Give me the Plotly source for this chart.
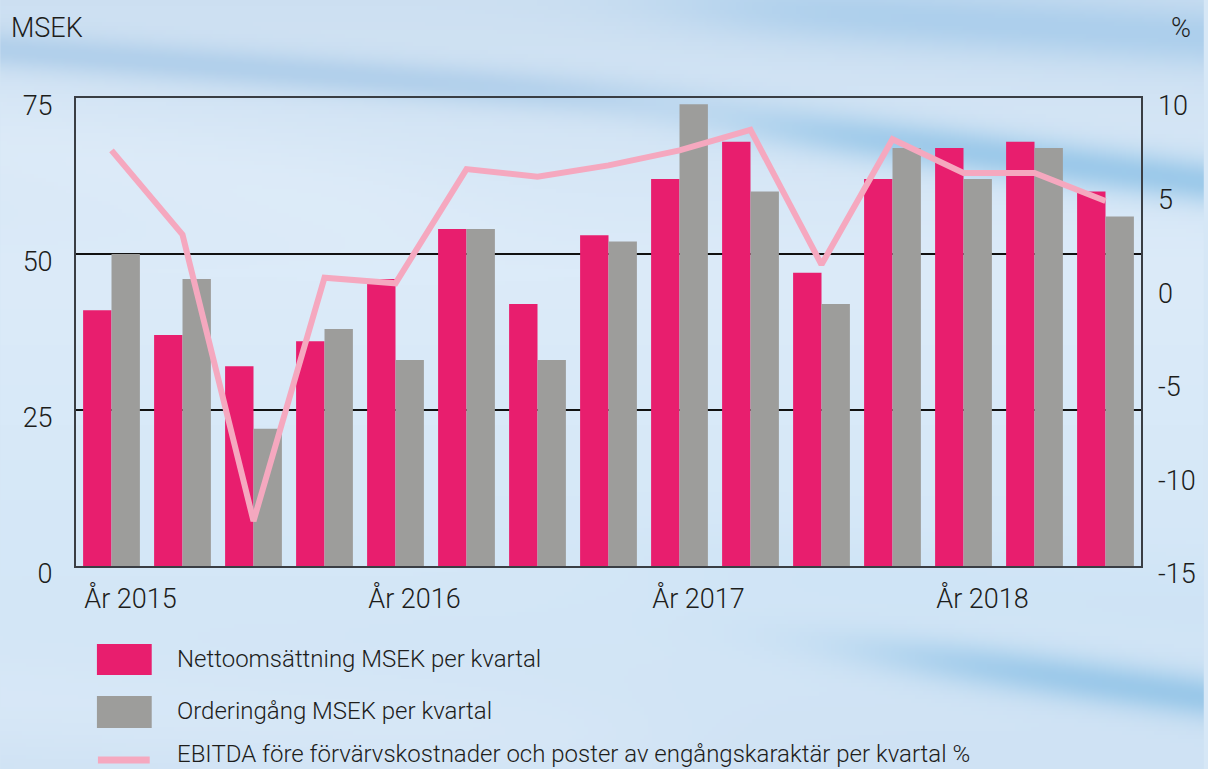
import numpy as np, zlib, struct, base64
import plotly.graph_objects as go

# ---------------- data ----------------
quarters = ["2015Q1", "2015Q2", "2015Q3", "2015Q4",
            "2016Q1", "2016Q2", "2016Q3", "2016Q4",
            "2017Q1", "2017Q2", "2017Q3", "2017Q4",
            "2018Q1", "2018Q2", "2018Q3"]
netto = [41, 37, 32, 36, 46, 54, 42, 53, 62, 68, 47, 62, 67, 68, 60]
order = [50, 46, 22, 38, 33, 54, 33, 52, 74, 60, 42, 67, 62, 67, 56]
ebitda = [7.2, 2.7, -12.6, 0.4, 0.1, 6.2, 5.8, 6.4, 7.2, 8.3, 1.1, 7.8, 6.0, 6.0, 4.5]
year_tick_idx = [0, 4, 8, 12]
year_tick_text = ["År 2015", "År 2016", "År 2017", "År 2018"]
left_ticks = [0, 25, 50, 75]
right_ticks = [-15, -10, -5, 0, 5, 10]
right_tick_text = ["-15", "-10", "-5", "0", "5", "10"]
legend_names = ["Nettoomsättning MSEK per kvartal",
                "Orderingång MSEK per kvartal",
                "EBITDA före förvärvskostnader och poster av engångskaraktär per kvartal %"]

PINK = "#E81E6E"
GRAY = "#9D9D9B"
LINE = "#F5A8BF"
TXT = "#1d1d1b"

W, H = 1208, 769
ML, MR, MT, MB = 76, 63, 98, 203
PW, PH = W - ML - MR, H - MT - MB

# ---------------- background sky image ----------------
gw, gh = 302, 193
ys, xs = np.mgrid[0:gh, 0:gw].astype(float)
xs *= W / gw
ys *= H / gh
top = np.array([205, 224, 242.0])
mid = np.array([220, 235, 249.0])
low = np.array([212, 231, 247.0])
t = ys / H
img = np.zeros((gh, gw, 3))
for c in range(3):
    img[..., c] = np.interp(t, [0, 0.35, 0.75, 1.0], [top[c], mid[c], low[c], top[c] + 2])

def band(x0, y0, x1, y1, sigma, strength, color, xa=None, xb=None):
    dx, dy = x1 - x0, y1 - y0
    L = np.hypot(dx, dy)
    d = ((xs - x0) * dy - (ys - y0) * dx) / L
    w = strength * np.exp(-0.5 * (d / sigma) ** 2)
    if xa is not None:
        w *= 1 / (1 + np.exp(-(xs - xa) / 60))
    if xb is not None:
        w *= 1 / (1 + np.exp((xs - xb) / 60))
    col = np.array(color, float)
    for c in range(3):
        img[..., c] = img[..., c] * (1 - w) + col[c] * w

band(0, 48, 620, 95, 14, 0.45, (140, 185, 225), xb=650)
band(650, 0, 1208, 35, 22, 0.5, (140, 190, 230), xa=700)
band(700, 115, 1208, 180, 16, 0.55, (110, 178, 224), xa=760)
band(880, 650, 1208, 695, 16, 0.55, (110, 178, 224), xa=900)
band(0, 140, 400, 200, 40, 0.35, (232, 242, 252), xb=450)
band(0, 700, 600, 740, 40, 0.3, (230, 241, 252), xb=650)
band(600, 560, 1208, 600, 30, 0.2, (190, 218, 243), xa=650)

img = np.clip(img, 0, 255).astype(np.uint8)

def to_png(a):
    h, w, _ = a.shape
    raw = b"".join(b"\x00" + a[i].tobytes() for i in range(h))
    def chunk(tag, data):
        return struct.pack(">I", len(data)) + tag + data + struct.pack(">I", zlib.crc32(tag + data) & 0xffffffff)
    return (b"\x89PNG\r\n\x1a\n" + chunk(b"IHDR", struct.pack(">IIBBBBB", w, h, 8, 2, 0, 0, 0))
            + chunk(b"IDAT", zlib.compress(raw, 9)) + chunk(b"IEND", b""))

bg_uri = "data:image/png;base64," + base64.b64encode(to_png(img)).decode()

# ---------------- figure ----------------
xidx = list(range(len(quarters)))
fig = go.Figure()
fig.add_trace(go.Bar(x=xidx, y=netto, name=legend_names[0], marker_color=PINK,
                     marker_line_width=0, hovertext=quarters))
fig.add_trace(go.Bar(x=xidx, y=order, name=legend_names[1], marker_color=GRAY,
                     marker_line_width=0, hovertext=quarters))
fig.add_trace(go.Scatter(x=xidx, y=ebitda, name=legend_names[2], mode="lines",
                         line=dict(color=LINE, width=6), yaxis="y2", hovertext=quarters))

font_family = "Roboto, Liberation Sans, Arial, sans-serif"
tf = dict(size=27, color=TXT, family=font_family, weight=300)
fig.update_layout(
    width=W, height=H,
    margin=dict(l=ML, r=MR, t=MT, b=MB, pad=0),
    paper_bgcolor="#d6e7f6",
    plot_bgcolor="rgba(0,0,0,0)",
    barmode="group", bargap=0.2, bargroupgap=0,
    showlegend=False,
    font=dict(family=font_family, color=TXT, size=27, weight=300),
    xaxis=dict(range=[-0.5, len(quarters) - 0.5], tickvals=year_tick_idx, ticktext=year_tick_text,
               showgrid=False, zeroline=False, showline=True, linecolor="#3a3e44", linewidth=2,
               mirror=True, ticks="", ticklabelshift=19, ticklabelstandoff=8, tickfont=tf),
    yaxis=dict(range=[0, 75], tickvals=left_ticks, showgrid=True, gridcolor="#111111", gridwidth=1.5,
               zeroline=False, showline=True, linecolor="#3a3e44", linewidth=2, mirror=True,
               ticks="", ticklabelstandoff=16, ticklabelshift=8, tickfont=tf),
    yaxis2=dict(range=[-15, 10], tickvals=right_ticks, ticktext=right_tick_text,
                overlaying="y", side="right",
                showgrid=False, zeroline=False, showline=False, ticks="",
                ticklabelstandoff=16, ticklabelshift=8, tickfont=tf),
    images=[dict(source=bg_uri, xref="paper", yref="paper",
                 x=-ML / PW, y=1 + MT / PH, sizex=W / PW, sizey=H / PH,
                 xanchor="left", yanchor="top", sizing="stretch", layer="below")],
)

def px(xp):
    return (xp - ML) / PW

def py(yp):
    return 1 - (yp - MT) / PH

annotations = [
    dict(text="MSEK", x=px(9), y=py(28), xanchor="left", yanchor="middle", font=dict(size=27)),
    dict(text="%", x=px(1197), y=py(28), xanchor="right", yanchor="middle", font=dict(size=27)),
]
legend_y = [659, 711, 754]
for name, yy in zip(legend_names, legend_y):
    annotations.append(dict(text=name, x=px(175), y=py(yy), xanchor="left", yanchor="middle",
                            font=dict(size=24)))
for a in annotations:
    a.update(xref="paper", yref="paper", showarrow=False)
fig.update_layout(annotations=annotations)

shapes = [
    dict(type="rect", x0=px(97), x1=px(152), y0=py(644), y1=py(675), fillcolor=PINK, line_width=0),
    dict(type="rect", x0=px(97), x1=px(152), y0=py(696), y1=py(728), fillcolor=GRAY, line_width=0),
    dict(type="line", x0=px(98), x1=px(150), y0=py(760), y1=py(760), line=dict(color=LINE, width=7)),
]
for s in shapes:
    s.update(xref="paper", yref="paper")
fig.update_layout(shapes=shapes)

fig.write_html("out.html", config={"displayModeBar": False},
               post_script="document.body.style.margin='0';document.body.style.padding='0';"
                           "document.documentElement.style.overflow='hidden';")
